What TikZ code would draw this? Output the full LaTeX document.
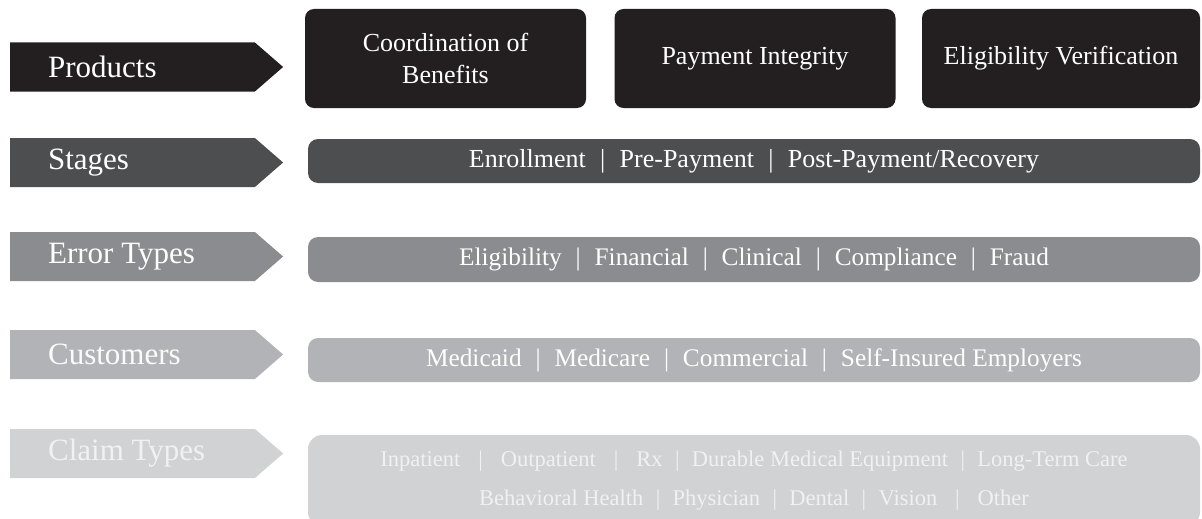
\documentclass[tikz,border=0pt]{standalone}
\usepackage{fontspec}
\setmainfont{Liberation Serif}
\usetikzlibrary{shapes.symbols,positioning}

\definecolor{prodgray}{HTML}{231F20}
\definecolor{stagegray}{HTML}{4D4E50}
\definecolor{errgray}{HTML}{8B8C8F}
\definecolor{custgray}{HTML}{B2B3B6}
\definecolor{claimgray}{HTML}{D1D2D4}
\definecolor{claimtext}{HTML}{F1F1F2}

% separators between the items of a bar
\newcommand{\sep}{\hspace{.55em}|\hspace{.55em}}
\newcommand{\wsep}{\hspace{.8em}|\hspace{.8em}}

\tikzset{
  tag/.style={signal,signal to=east,signal pointer angle=82,minimum width=273pt,minimum height=49pt,inner sep=0pt},
  tagtext/.style={font=\fontsize{31}{36}\selectfont,inner sep=0pt,anchor=west},
  box/.style={fill=prodgray,rounded corners=9pt,minimum width=281pt,minimum height=99pt,text=white,align=center,font=\fontsize{26}{32}\selectfont},
  bar/.style={rounded corners=10pt,minimum width=892pt,minimum height=44pt,text=white,align=center,font=\fontsize{25.3}{32}\selectfont}
}

\begin{document}
\begin{tikzpicture}[x=1pt,y=-1pt]
\useasboundingbox (0,0) rectangle (1202,519);
\clip (0,0) rectangle (1202,519);

% row labels on the left
\foreach \lbl/\y/\col/\txt [count=\n] in {Products/67/prodgray/white,Stages/162.5/stagegray/white,Error Types/256.5/errgray/white,Customers/354.5/custgray/white!95!custgray,Claim Types/453.5/claimgray/claimtext}
  {
  \node[tag,fill=\col] (T\n) at (132.5,\y) {};
  \node[tagtext,text=\txt,right=38pt of T\n.west] (L\n) {\lbl};
  }

% products
\node[box] (P1) at (445.5,58.5) {Coordination of\\Benefits};
\node[box] (P2) at (755,58.5) {Payment Integrity};
\node[box,minimum width=278pt] (P3) at (1061,58.5) {Eligibility Verification};

% stages, errors, customers
\node[bar,fill=stagegray,font=\fontsize{26}{32}\selectfont] (B2) at (754,161) {Enrollment\sep Pre-Payment\sep Post-Payment/Recovery};
\node[bar,fill=errgray,minimum height=45pt] (B3) at (754,259.5) {Eligibility\sep Financial\sep Clinical\sep Compliance\sep Fraud};
\node[bar,fill=custgray] (B4) at (754,360) {Medicaid\sep Medicare\sep Commercial\sep Self-Insured Employers};

% claim types
\node[bar,fill=claimgray,rounded corners=14pt,minimum height=91pt,text=claimtext,font=\fontsize{22.5}{39}\selectfont] (B5) at (754,480.5)
  {Inpatient\wsep Outpatient\wsep Rx\sep Durable Medical Equipment\sep Long-Term Care\\
   Behavioral Health\sep Physician\sep Dental\sep Vision\wsep Other};
\end{tikzpicture}
\end{document}
